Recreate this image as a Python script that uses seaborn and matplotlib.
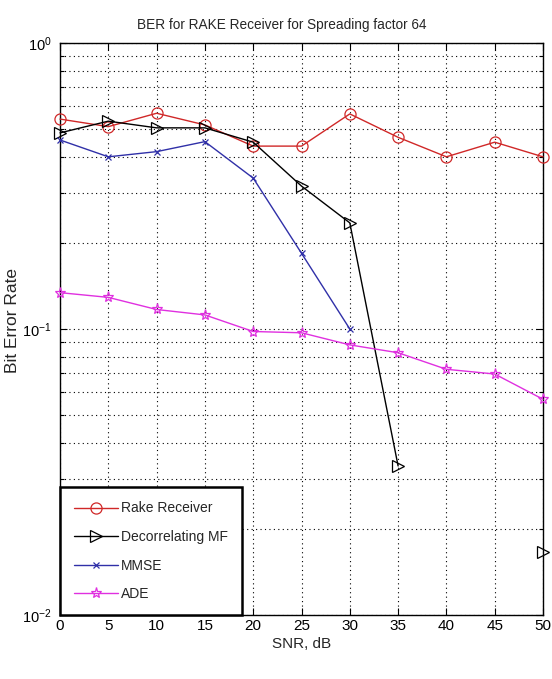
import numpy as np
import pandas as pd
import matplotlib
matplotlib.use("Agg")
import matplotlib.pyplot as plt
import seaborn as sns
from matplotlib.lines import Line2D
from matplotlib.ticker import LogLocator, NullFormatter, FixedLocator

# ---- data ----
snr = [0, 5, 10, 15, 20, 25, 30, 35, 40, 45, 50]
rake = [0.542, 0.51, 0.568, 0.517, 0.436, 0.436, 0.565, 0.468, 0.40, 0.45, 0.40]
decor = [0.485, 0.533, 0.505, 0.505, 0.45, 0.316, 0.235, 0.0332, np.nan, np.nan, 0.0166]
mmse = [0.458, 0.40, 0.417, 0.452, 0.337, 0.184, 0.10, np.nan, np.nan, np.nan, np.nan]
ade = [0.134, 0.129, 0.117, 0.112, 0.098, 0.097, 0.088, 0.0826, 0.0723, 0.0696, 0.0568]
labels = ["Rake Receiver", "Decorrelating MF", "MMSE", "ADE"]
x_ticks = [0, 5, 10, 15, 20, 25, 30, 35, 40, 45, 50]

sns.set_style("ticks")
FONT = ["Liberation Sans", "DejaVu Sans"]
plt.rcParams["font.family"] = FONT
plt.rcParams["mathtext.fontset"] = "custom"
plt.rcParams["mathtext.rm"] = "Liberation Sans"
plt.rcParams["mathtext.default"] = "regular"

fig = plt.figure(figsize=(5.52, 6.79), dpi=100)
ax = fig.add_axes([60 / 552, 1 - 615 / 679, (543 - 60) / 552, (615 - 43) / 679])

styles = [
    dict(color="#d02828", marker="o", ms=8, mew=0.9),
    dict(color="#000000", marker=">", ms=8.5, mew=0.9),
    dict(color="#3030a8", marker="x", ms=4.5, mew=0.9),
    dict(color="#e030e0", marker="*", ms=8, mew=0.9),
]
series = [rake, decor, mmse, ade]

for vals, st in zip(series, styles):
    df = pd.DataFrame({"snr": snr, "ber": vals})
    df["seg"] = df["ber"].isna().cumsum()
    df = df.dropna()
    sns.lineplot(data=df, x="snr", y="ber", units="seg", estimator=None,
                 sort=False, ax=ax, color=st["color"], lw=1.0,
                 marker=st["marker"], markersize=st["ms"],
                 markerfacecolor="none", markeredgecolor=st["color"],
                 markeredgewidth=st["mew"], legend=False, clip_on=False,
                 zorder=3)

ax.set_yscale("log")
ax.set_xlim(0, 50)
ax.set_ylim(1e-2, 1)
ax.xaxis.set_major_locator(FixedLocator(x_ticks))
ax.yaxis.set_major_locator(LogLocator(base=10, numticks=10))
ax.yaxis.set_minor_locator(LogLocator(base=10, subs=np.arange(2, 10), numticks=20))
ax.yaxis.set_minor_formatter(NullFormatter())

ax.grid(True, which="major", axis="both", color="black", linestyle=(0, (1, 3)), lw=0.8)
ax.grid(True, which="minor", axis="y", color="black", linestyle=(0, (1, 3)), lw=0.8)

ax.tick_params(which="both", direction="in", top=True, right=True,
               labelsize=11, colors="black")
ax.tick_params(axis="x", pad=3)
ax.tick_params(axis="y", pad=6, labelsize=10.5)
ax.tick_params(which="major", length=5, width=0.8)
ax.tick_params(which="minor", length=3, width=0.8)
for s in ax.spines.values():
    s.set_visible(True)
    s.set_color("black")
    s.set_linewidth(1.0)

ax.set_title("BER for RAKE Receiver for Spreading factor 64", fontsize=9.8,
             x=(281.5 - 60) / 483, pad=10)
ax.set_xlabel("SNR, dB", fontsize=11, labelpad=3)
ax.set_ylabel("Bit Error Rate", fontsize=12.5)
ax.yaxis.set_label_coords((20 - 60) / 483, 0.515)

handles = [Line2D([], [], color=st["color"], lw=1.0, marker=st["marker"],
                  markersize=st["ms"], markerfacecolor="none",
                  markeredgecolor=st["color"], markeredgewidth=st["mew"])
           for st in styles]
leg = ax.legend(handles, labels, loc="lower left", bbox_to_anchor=(0, 0),
                borderaxespad=0, fontsize=10, handlelength=3.2,
                handletextpad=0.2, labelspacing=1.05, borderpad=1.0,
                fancybox=False, framealpha=1, edgecolor="black")
leg.get_frame().set_linewidth(1.8)
leg.set_zorder(5)

fig.savefig("out.png", dpi=100)
